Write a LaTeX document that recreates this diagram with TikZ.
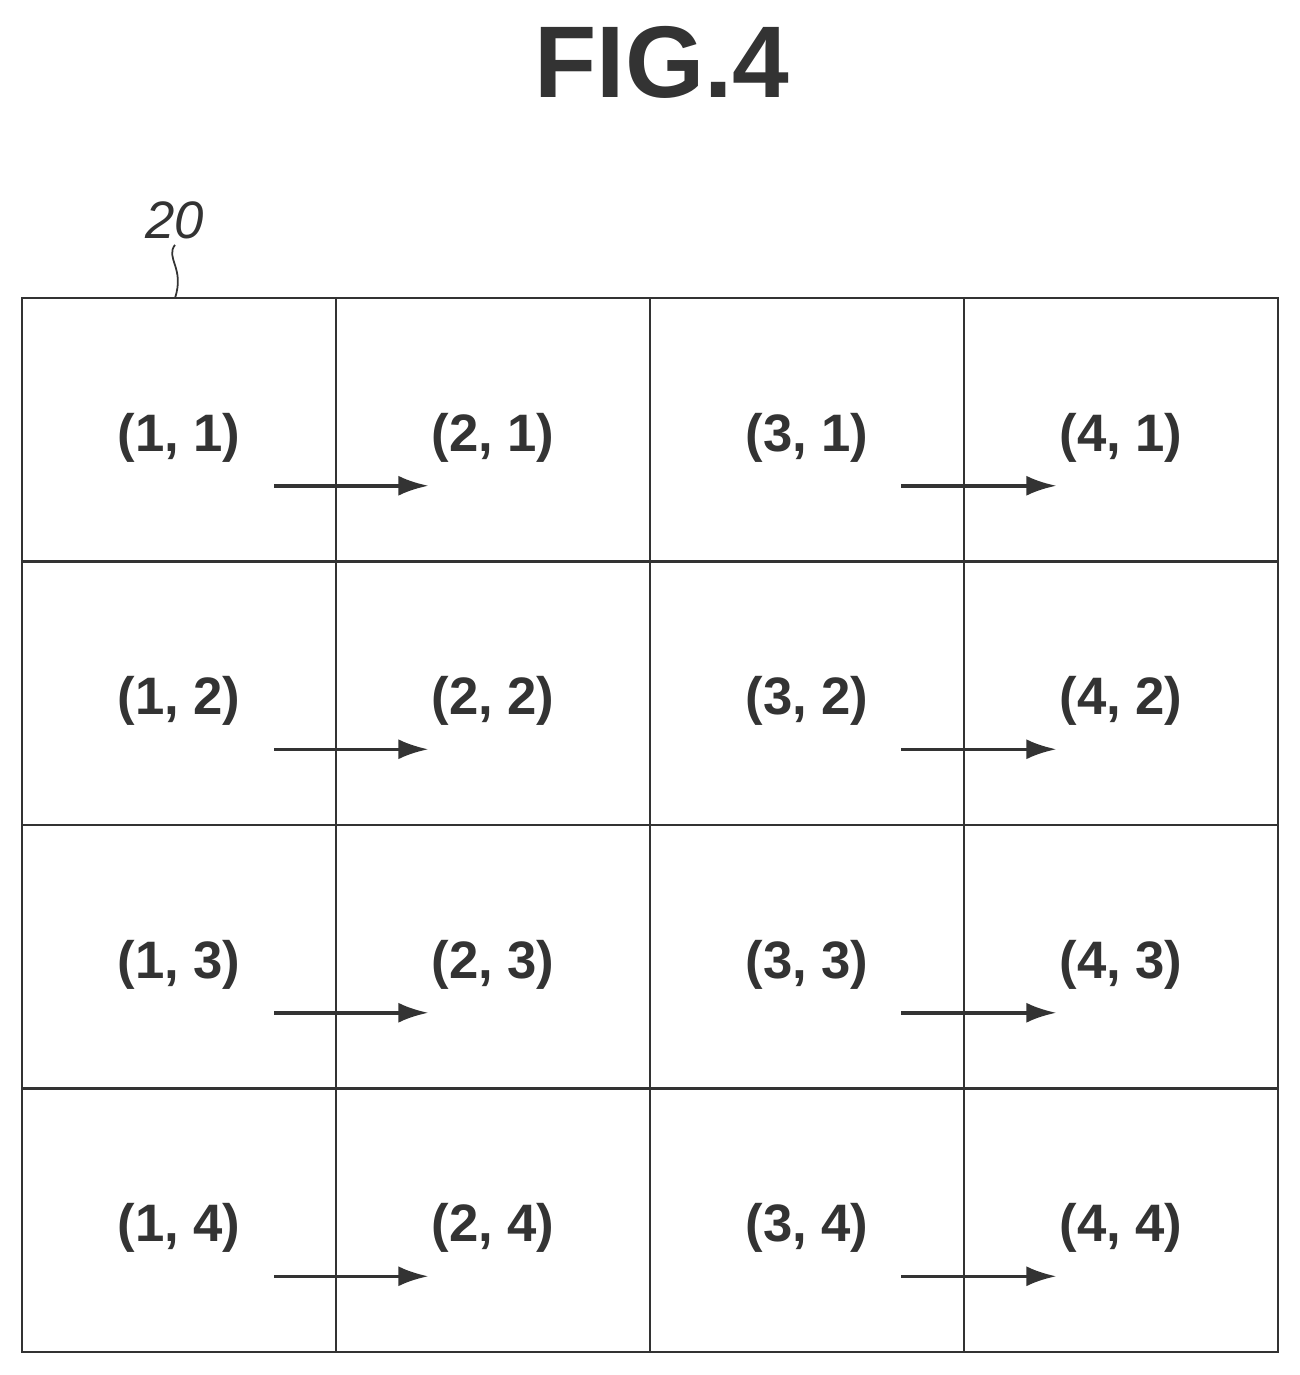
\documentclass[tikz,border=0pt]{standalone}
\usepackage{fontspec}
\setmainfont{Liberation Sans}
\usetikzlibrary{arrows.meta}
\definecolor{ink}{HTML}{333333}

\begin{document}
\begin{tikzpicture}[
    x=0.02cm, y=-0.02cm,
    >={Latex[length=6mm,width=4mm]},
    cell/.style={draw=ink, line width=1.6pt, minimum width=6.28cm, minimum height=5.27cm, inner sep=0pt},
    lbl/.style={font=\bfseries\fontsize{30}{30}\selectfont, text=ink},
    title/.style={font=\bfseries\fontsize{58}{58}\selectfont, text=ink},
    flow/.style={->, draw=ink, line width=2pt}
  ]
    \useasboundingbox (0,0) rectangle (1300,1375);
    \node[title] (fig) at (662,62) {FIG.4};

    % grid of cells with labels
    \foreach \c [evaluate=\c as \cx using 22+314*(\c-1)+157] in {1,...,4} {
      \foreach \r [evaluate=\r as \ry using 298+263.5*(\r-1)+131.75] in {1,...,4} {
        \node[cell] (c\c\r) at (\cx,\ry) {};
        \node[lbl] (l\c\r) at (\cx,\ry+8) {(\c, \r)};
      }
    }

    % arrows across the cell borders
    \foreach \r in {1,...,4} {
      \coordinate (a\r) at ([shift={(-63,56)}]c1\r.east);
      \coordinate (b\r) at ([shift={(91,56)}]c1\r.east);
      \coordinate (d\r) at ([shift={(-64,56)}]c3\r.east);
      \coordinate (e\r) at ([shift={(91,56)}]c3\r.east);
      \draw[flow] (a\r) -- (b\r);
      \draw[flow] (d\r) -- (e\r);
    }

    % reference numeral
    \node[font=\itshape\fontsize{30}{30}\selectfont, text=ink] (ref) at (175,220) {20};
    \coordinate (tip) at (175,298);
    \draw[ink, line width=1pt] (ref.south) .. controls (165,258) and (185,268) .. (tip);
  \end{tikzpicture}
\end{document}
